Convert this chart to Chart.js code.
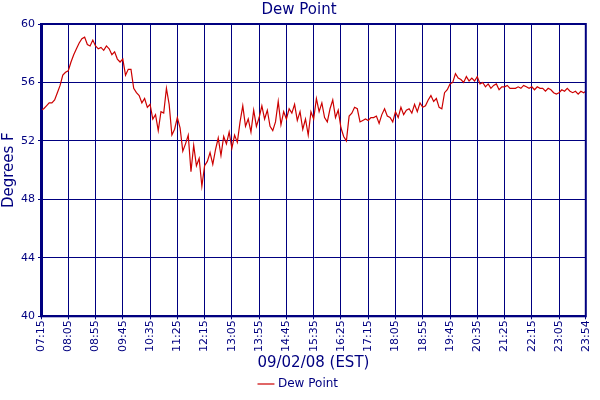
<!DOCTYPE html>
<html><head><meta charset="utf-8">
<script src="https://cdn.jsdelivr.net/npm/chart.js@4"></script>
<style>html,body{margin:0;padding:0;background:#fff}#w{width:600px;height:400px}</style>
</head><body><div id="w"><canvas id="c"></canvas></div>
<script>
const startMinute = 7*60+15;
const stepMinutes = 5;
const dewPoint = [
54.1,54.2,54.4,54.6,54.6,54.8,55.3,55.8,56.5,56.7,
56.8,57.4,57.9,58.3,58.7,59.0,59.1,58.6,58.5,58.9,
58.5,58.3,58.4,58.2,58.5,58.3,57.9,58.1,57.6,57.4,
57.6,56.5,56.9,56.9,55.6,55.3,55.1,54.6,54.9,54.3,
54.5,53.5,53.8,52.7,54.0,53.9,55.6,54.5,52.4,52.8,
53.6,52.9,51.3,51.8,52.4,49.9,51.7,50.3,50.8,48.9,
50.3,50.6,51.2,50.4,51.4,52.2,51.0,52.3,51.8,52.6,
51.5,52.4,51.9,53.3,54.4,53.0,53.5,52.6,54.1,53.0,
53.6,54.4,53.5,54.1,53.0,52.7,53.3,54.7,53.1,54.0,
53.5,54.2,53.9,54.5,53.4,54.0,52.8,53.5,52.4,54.0,
53.5,54.9,54.0,54.6,53.6,53.3,54.2,54.8,53.6,54.1,
52.9,52.3,52.0,53.7,53.9,54.3,54.2,53.3,53.4,53.5,
53.4,53.6,53.6,53.7,53.2,53.8,54.2,53.7,53.6,53.3,
54.0,53.6,54.3,53.8,54.1,54.2,53.9,54.5,54.0,54.6,
54.3,54.4,54.8,55.1,54.7,54.9,54.3,54.2,55.3,55.5,
55.9,56.0,56.6,56.3,56.2,56.0,56.4,56.1,56.3,56.1,
56.4,55.9,56.0,55.7,55.9,55.6,55.8,55.9,55.5,55.7,
55.7,55.8,55.6,55.6,55.6,55.7,55.6,55.8,55.7,55.6,
55.7,55.5,55.7,55.6,55.6,55.4,55.6,55.5,55.3,55.2,
55.3,55.5,55.4,55.6,55.4,55.3,55.4,55.2,55.4,55.3];
const lastPoint = {minute: 999, value: 55.4};
const xTickMinutes = [0,50,100,150,200,250,300,350,400,450,500,550,600,650,700,750,800,850,900,950,999];
const yTicks = [40,44,48,52,56,60];

const pts = dewPoint.map((v,i)=>({x:i*stepMinutes,y:v}));
pts.push({x:lastPoint.minute,y:lastPoint.value});
const fmt = m => { const t=startMinute+m; const h=Math.floor(t/60), mm=t%60; return String(h).padStart(2,'0')+':'+String(mm).padStart(2,'0'); };
const navy='#000080', font='DejaVu Sans';
new Chart(document.getElementById('c'),{
 type:'line',
 data:{datasets:[{label:'Dew Point',data:pts,borderColor:'#cc0000',backgroundColor:'#cc0000',borderWidth:1.2,pointRadius:0,tension:0}]},
 options:{responsive:true,maintainAspectRatio:false,animation:false,
  layout:{padding:{left:0,right:2,top:0,bottom:0}},
  plugins:{
   title:{display:true,text:'Dew Point',color:navy,font:{family:font,size:15,weight:'normal'},padding:{top:1,bottom:5}},
   legend:{position:'bottom',labels:{color:navy,font:{family:font,size:12},usePointStyle:true,pointStyle:'line',boxWidth:14,padding:2}},
   tooltip:{enabled:false}},
  scales:{
   x:{type:'linear',min:0,max:999,
    afterBuildTicks:s=>{s.ticks=xTickMinutes.map(v=>({value:v}));},
    ticks:{color:navy,font:{family:font,size:11},minRotation:90,maxRotation:90,autoSkip:false,callback:v=>fmt(v),padding:1},
    grid:{color:navy,lineWidth:1,drawTicks:true,tickLength:3},
    border:{color:navy,width:2},
    title:{display:true,text:'09/02/08 (EST)',color:navy,font:{family:font,size:15},padding:{top:1,bottom:4}}},
   y:{min:40,max:60,
    afterBuildTicks:s=>{s.ticks=yTicks.map(v=>({value:v}));},
    afterFit:s=>{s.width=41;},
    ticks:{color:navy,font:{family:font,size:11},padding:3},
    grid:{color:navy,lineWidth:1,tickLength:3},
    border:{color:navy,width:3},
    title:{display:true,text:'Degrees F',color:navy,font:{family:font,size:15},padding:{top:0,bottom:2}}}
  }},
 plugins:[{id:'frame',afterDraw(c){const a=c.chartArea,x=c.ctx;x.save();x.strokeStyle=navy;x.lineWidth=2;x.strokeRect(a.left,a.top,a.right-a.left,a.bottom-a.top);x.restore();}}]
});
</script></body></html>
